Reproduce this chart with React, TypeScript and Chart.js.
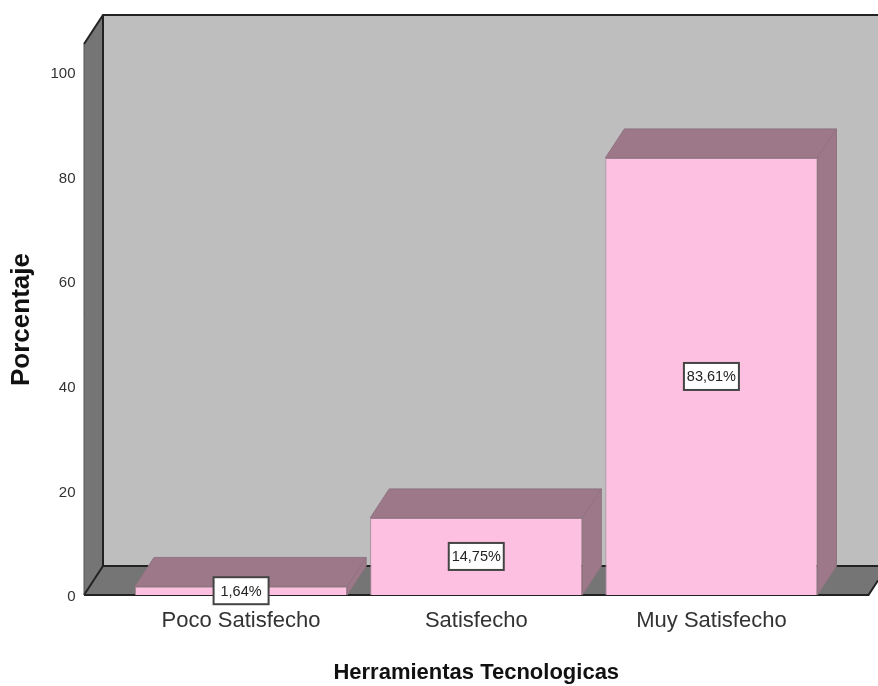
import React, { useEffect, useRef } from "react";
import { Chart, registerables } from "chart.js";

Chart.register(...registerables);

const categories = ["Poco Satisfecho", "Satisfecho", "Muy Satisfecho"];
const percentages = [1.64, 14.75, 83.61];
const yTicks = [0, 20, 40, 60, 80, 100];
const xTitle = "Herramientas Tecnologicas";
const yTitle = "Porcentaje";

const DX = 19;
const DY = 29;
const SIDE = 39.5;
const FONT = "'Liberation Sans', Arial, sans-serif";

function poly(ctx: CanvasRenderingContext2D, pts: number[][], fill: string, stroke?: string) {
  ctx.beginPath();
  pts.forEach((p, i) => (i ? ctx.lineTo(p[0], p[1]) : ctx.moveTo(p[0], p[1])));
  ctx.closePath();
  ctx.fillStyle = fill;
  ctx.fill();
  if (stroke) {
    ctx.strokeStyle = stroke;
    ctx.lineWidth = 1;
    ctx.stroke();
  }
}

function line(ctx: CanvasRenderingContext2D, pts: number[][], color = "#222222", w = 2) {
  ctx.beginPath();
  pts.forEach((p, i) => (i ? ctx.lineTo(p[0], p[1]) : ctx.moveTo(p[0], p[1])));
  ctx.strokeStyle = color;
  ctx.lineWidth = w;
  ctx.stroke();
}

const walls3d = {
  id: "walls3d",
  beforeDatasetsDraw(chart: any) {
    const { ctx, chartArea: a } = chart;
    const y0 = chart.scales.y.getPixelForValue(0);
    const l = a.left - SIDE;
    const r = a.right + SIDE;
    const bl = l + DX;
    const by = y0 - DY;
    const ty = a.top;
    const edge = y0 - (chart.width - r) * (DY / DX);
    ctx.save();
    poly(ctx, [[bl, ty - DY], [chart.width, ty - DY], [chart.width, by], [bl, by]], "#bebebe");
    poly(ctx, [[l, ty], [bl, ty - DY], [bl, by], [l, y0]], "#757575");
    poly(ctx, [[l, y0], [bl, by], [chart.width, by], [chart.width, edge], [r, y0]], "#757575");
    line(ctx, [[l, ty], [bl, ty - DY], [chart.width, ty - DY]]);
    line(ctx, [[bl, ty - DY], [bl, by], [chart.width, by]]);
    line(ctx, [[l, y0], [bl, by]]);
    line(ctx, [[l, y0], [r, y0], [chart.width, edge]]);
    line(ctx, [[l, ty], [l, y0]], "#555555", 1);
    ctx.restore();
  },
  afterDatasetsDraw(chart: any) {
    const { ctx } = chart;
    const meta = chart.getDatasetMeta(0);
    const vals = chart.data.datasets[0].data as number[];
    ctx.save();
    meta.data.forEach((bar: any) => {
      const l = bar.x - bar.width / 2;
      const r = bar.x + bar.width / 2;
      const t = bar.y;
      const b = bar.base;
      poly(ctx, [[l, t], [l + DX, t - DY], [r + DX, t - DY], [r, t]], "#9d7888", "#8f7480");
      poly(ctx, [[r, t], [r + DX, t - DY], [r + DX, b - DY], [r, b]], "#9d7888", "#8f7480");
    });
    meta.data.forEach((bar: any, i: number) => {
      const text = vals[i].toFixed(2).replace(".", ",") + "%";
      const cy = (bar.y + bar.base) / 2;
      const w = 55;
      const h = 27;
      ctx.fillStyle = "#ffffff";
      ctx.fillRect(bar.x - w / 2, cy - h / 2, w, h);
      ctx.strokeStyle = "#444444";
      ctx.lineWidth = 2;
      ctx.strokeRect(bar.x - w / 2, cy - h / 2, w, h);
      ctx.fillStyle = "#222222";
      ctx.font = `14.5px ${FONT}`;
      ctx.textAlign = "center";
      ctx.textBaseline = "middle";
      ctx.fillText(text, bar.x, cy + 1);
    });
    ctx.restore();
  },
};

export default function App() {
  const ref = useRef<HTMLCanvasElement>(null);
  useEffect(() => {
    const chart = new Chart(ref.current!, {
      type: "bar",
      data: {
        labels: categories,
        datasets: [
          {
            data: percentages,
            backgroundColor: "#fec0e0",
            borderColor: "#a88898",
            borderWidth: 1,
            categoryPercentage: 1,
            barPercentage: 0.902,
          },
        ],
      },
      plugins: [walls3d],
      options: {
        animation: false,
        responsive: false,
        layout: { padding: { top: 44, right: 49, left: 0, bottom: 0 } },
        plugins: { legend: { display: false }, tooltip: { enabled: false } },
        scales: {
          x: {
            grid: { display: false, drawTicks: false },
            border: { display: false },
            ticks: {
              padding: 13,
              color: "#333333",
              font: { family: FONT, size: 22 },
              maxRotation: 0,
            },
            title: {
              display: true,
              text: xTitle,
              color: "#111111",
              font: { family: FONT, size: 22, weight: "bold" },
              padding: { top: 18, bottom: 0 },
            },
            afterFit(s: any) {
              s.height = 91;
            },
          },
          y: {
            min: 0,
            max: 105.4,
            afterBuildTicks(s: any) {
              s.ticks = yTicks.map((value) => ({ value }));
            },
            grid: { display: false, drawTicks: false },
            border: { display: false },
            ticks: {
              padding: 48,
              labelOffset: 2,
              color: "#333333",
              font: { family: FONT, size: 15 },
            },
            title: {
              display: true,
              text: yTitle,
              color: "#111111",
              font: { family: FONT, size: 26, weight: "bold" },
              padding: { top: 6, bottom: 0 },
            },
            afterFit(s: any) {
              s.width = 123.5;
              s.paddingTop = 0;
              s.paddingBottom = 0;
            },
          },
        },
      },
    } as any);
    return () => chart.destroy();
  }, []);
  return (
    <div style={{ position: "absolute", left: 0, top: 0, width: 878, height: 686, background: "#fff" }}>
      <canvas ref={ref} width={878} height={686} style={{ display: "block" }} />
    </div>
  );
}
